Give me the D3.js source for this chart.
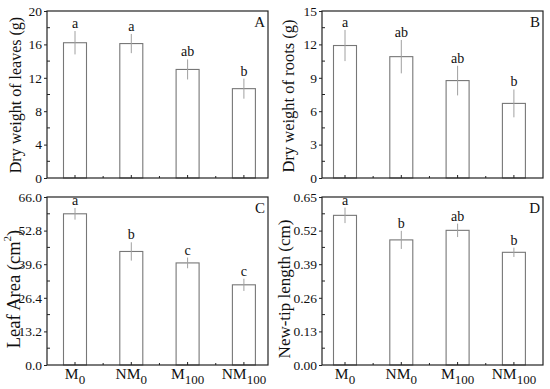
<!DOCTYPE html>
<html>
<head>
<meta charset="utf-8">
<script src="https://cdn.jsdelivr.net/npm/d3@7"></script>
<style>
  body { margin: 0; background: #fff; }
  svg text { font-family: "Liberation Serif", "Times New Roman", serif; fill: #111; }
</style>
</head>
<body>
<div id="chart"></div>
<script>
// data
var categories = ["M0", "NM0", "M100", "NM100"];

var leafWeight = [16.2, 16.1, 13.0, 10.7];
var leafWeightErr = [1.4, 1.15, 1.2, 1.2];
var leafWeightSig = ["a", "a", "ab", "b"];
var leafWeightTicks = [0, 4, 8, 12, 16, 20];

var rootWeight = [11.9, 10.9, 8.75, 6.7];
var rootWeightErr = [1.4, 1.5, 1.33, 1.25];
var rootWeightSig = ["a", "ab", "ab", "b"];
var rootWeightTicks = [0, 3, 6, 9, 12, 15];

var leafArea = [59.4, 44.6, 40.1, 31.5];
var leafAreaErr = [2.3, 3.6, 2.1, 2.4];
var leafAreaSig = ["a", "b", "c", "c"];
var leafAreaTicks = [0, 13.2, 26.4, 39.6, 52.8, 66.0];

var tipLength = [0.579, 0.484, 0.521, 0.436];
var tipLengthErr = [0.03, 0.035, 0.026, 0.018];
var tipLengthSig = ["a", "b", "ab", "b"];
var tipLengthTicks = [0, 0.13, 0.26, 0.39, 0.52, 0.65];

var W = 550, H = 389;

var svg = d3.select("#chart").append("svg")
    .attr("width", W)
    .attr("height", H);

var panels = [
    { tag: "A", title: "Dry weight of leaves (g)", vals: leafWeight, err: leafWeightErr, sig: leafWeightSig, ticks: leafWeightTicks, fmt: d3.format("d"),
      left: 47, top: 11, bottom: 178, xStart: 28, titleX: 15, titleY: 95, titleSize: 16, xLabels: false },
    { tag: "B", title: "Dry weight of roots (g)", vals: rootWeight, err: rootWeightErr, sig: rootWeightSig, ticks: rootWeightTicks, fmt: d3.format("d"),
      left: 322, top: 11, bottom: 178, xStart: 23, titleX: 288, titleY: 96, titleSize: 16.5, xLabels: false },
    { tag: "C", title: "Leaf Area (cm", sup: "2", titleEnd: ")", vals: leafArea, err: leafAreaErr, sig: leafAreaSig, ticks: leafAreaTicks, fmt: d3.format(".1f"),
      left: 47, top: 197, bottom: 365, xStart: 28, titleX: 14, titleY: 289, titleSize: 18.5, xLabels: true },
    { tag: "D", title: "New-tip length (cm)", vals: tipLength, err: tipLengthErr, sig: tipLengthSig, ticks: tipLengthTicks, fmt: d3.format(".2f"),
      left: 322, top: 197, bottom: 365, xStart: 23, titleX: 284, titleY: 289, titleSize: 17, xLabels: true }
];

var plotW = 221;
var step = 56.3;
var barW = 23;

panels.forEach(function (p) {
    var g = svg.append("g");

    var x = d3.scalePoint()
        .domain(categories)
        .range([p.left + p.xStart, p.left + p.xStart + step * (categories.length - 1)]);

    var y = d3.scaleLinear()
        .domain([p.ticks[0], p.ticks[p.ticks.length - 1]])
        .range([p.bottom, p.top]);

    var rows = categories.map(function (c, i) {
        return { cat: c, v: p.vals[i], e: p.err[i], s: p.sig[i] };
    });

    // bars
    g.selectAll(".bar")
        .data(rows)
        .enter().append("rect")
        .attr("class", "bar")
        .attr("x", function (d) { return x(d.cat) - barW / 2; })
        .attr("width", barW)
        .attr("y", function (d) { return y(d.v); })
        .attr("height", function (d) { return y(0) - y(d.v); })
        .attr("fill", "#fff")
        .attr("stroke", "#777")
        .attr("stroke-width", 1.1);

    // error bars
    g.selectAll(".err")
        .data(rows)
        .enter().append("line")
        .attr("x1", function (d) { return x(d.cat); })
        .attr("x2", function (d) { return x(d.cat); })
        .attr("y1", function (d) { return y(d.v + d.e); })
        .attr("y2", function (d) { return y(d.v - d.e); })
        .attr("stroke", "#a0a0a0")
        .attr("stroke-width", 1);

    // significance letters
    g.selectAll(".sig")
        .data(rows)
        .enter().append("text")
        .attr("x", function (d) { return x(d.cat); })
        .attr("y", function (d) { return y(d.v + d.e) - 3; })
        .attr("text-anchor", "middle")
        .attr("font-size", 14)
        .text(function (d) { return d.s; });

    // y axis, outward major ticks
    var yAxis = d3.axisLeft(y)
        .tickValues(p.ticks)
        .tickFormat(p.fmt)
        .tickSize(3)
        .tickPadding(2);
    var ya = g.append("g")
        .attr("transform", "translate(" + p.left + ",0)")
        .call(yAxis);
    ya.select(".domain").remove();
    ya.selectAll("line").attr("stroke", "#222");
    ya.selectAll("text").attr("font-size", 13.5).attr("font-family", "Liberation Serif, serif").attr("fill", "#111");

    // y minor ticks, inward
    var minor = d3.pairs(p.ticks).map(function (t) { return (t[0] + t[1]) / 2; });
    g.selectAll(".ymin")
        .data(minor)
        .enter().append("line")
        .attr("x1", p.left)
        .attr("x2", p.left + 3)
        .attr("y1", function (d) { return y(d); })
        .attr("y2", function (d) { return y(d); })
        .attr("stroke", "#222");

    // x ticks, inward
    g.selectAll(".xmaj")
        .data(categories)
        .enter().append("line")
        .attr("x1", function (d) { return x(d); })
        .attr("x2", function (d) { return x(d); })
        .attr("y1", p.bottom)
        .attr("y2", p.bottom - 3)
        .attr("stroke", "#222");
    g.selectAll(".xmin")
        .data(d3.pairs(categories))
        .enter().append("line")
        .attr("x1", function (d) { return (x(d[0]) + x(d[1])) / 2; })
        .attr("x2", function (d) { return (x(d[0]) + x(d[1])) / 2; })
        .attr("y1", p.bottom)
        .attr("y2", p.bottom - 2)
        .attr("stroke", "#222");

    // frame
    g.append("rect")
        .attr("x", p.left)
        .attr("y", p.top)
        .attr("width", plotW)
        .attr("height", p.bottom - p.top)
        .attr("fill", "none")
        .attr("stroke", "#222")
        .attr("stroke-width", 1.2);

    // x labels with subscripts
    if (p.xLabels) {
        var lab = g.selectAll(".xlab")
            .data(categories)
            .enter().append("text")
            .attr("x", function (d) { return x(d); })
            .attr("y", p.bottom + 14)
            .attr("text-anchor", "middle")
            .attr("font-size", 15.5);
        lab.append("tspan").text(function (d) { return d.match(/^([A-Z]+)(\d+)$/)[1]; });
        lab.append("tspan")
            .attr("dy", 5)
            .attr("font-size", 13)
            .text(function (d) { return d.match(/^([A-Z]+)(\d+)$/)[2]; });
    }

    // panel tag
    g.append("text")
        .attr("x", p.left + plotW - 3)
        .attr("y", p.top + 16)
        .attr("text-anchor", "end")
        .attr("font-size", 15)
        .text(p.tag);

    // y title
    var t = g.append("text")
        .attr("transform", "translate(" + p.titleX + "," + p.titleY + ") rotate(-90)")
        .attr("text-anchor", "middle")
        .attr("dominant-baseline", "central")
        .attr("font-size", p.titleSize);
    t.append("tspan").text(p.title);
    if (p.sup) {
        t.append("tspan").attr("dy", -7).attr("font-size", p.titleSize * 0.6).text(p.sup);
        t.append("tspan").attr("dy", 7).text(p.titleEnd);
    }
});
</script>
</body>
</html>
